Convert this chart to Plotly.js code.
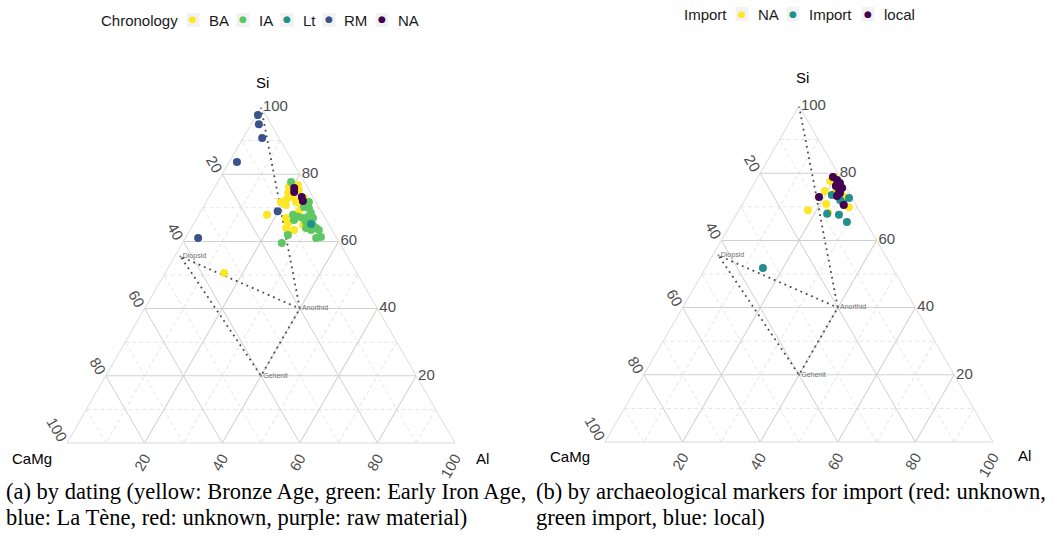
<!DOCTYPE html>
<html><head><meta charset="utf-8">
<script src="https://cdn.plot.ly/plotly-3.0.1.min.js"></script>
<style>html,body{margin:0;padding:0;background:#fff}#chart{width:1059px;height:536px}</style>
</head><body><div id="chart"></div>
<script>
// ---------- Panel (a): by chronology ----------
const chronTitle = "Chronology";
const chronCategories = ["BA", "IA", "Lt", "RM", "NA"];
const chronColors = ["#FDE725", "#5DC863", "#21908C", "#3B528B", "#440154"];

const BA_Si   = [50.6, 67.9, 76.2, 76.8, 75.3, 74.4, 73.2, 72.3, 71.7, 72.9, 70.8, 70.8, 71.7, 70.8, 67.0, 65.5, 64.0, 63.4, 68.8, 64.9];
const BA_CaMg = [34.2, 14.5, 4.7, 2.1, 2.6, 5.8, 5.2, 7.4, 5.1, 2.5, 4.3, 2.5, 9.0, 8.2, 10.1, 10.3, 11.5, 9.8, 5.8, 6.7];
const BA_Al   = [15.2, 17.6, 19.1, 21.1, 22.1, 19.8, 21.6, 20.3, 23.2, 24.6, 24.9, 26.7, 19.3, 21.0, 22.9, 24.2, 24.5, 26.8, 25.4, 28.4];

const IA_Si   = [77.7, 70.2, 69.9, 68.5, 67.3, 67.0, 67.9, 67.3, 67.0, 66.4, 65.8, 64.9, 64.0, 63.4, 64.0, 63.4, 61.3, 61.0, 59.5, 61.9, 71.7];
const IA_CaMg = [3.4, 3.8, 2.7, 2.9, 4.2, 3.1, 7.8, 6.8, 5.7, 8.3, 5.5, 4.2, 3.8, 3.4, 6.4, 5.4, 3.9, 5.3, 14.9, 12.1, 1.8];
const IA_Al   = [18.9, 26.0, 27.4, 28.6, 28.5, 29.9, 24.3, 25.9, 27.3, 25.3, 28.7, 30.9, 32.2, 33.2, 29.6, 31.2, 34.8, 33.7, 25.6, 26.0, 26.5];

const Lt_Si   = [65.2];
const Lt_CaMg = [4.5];
const Lt_Al   = [30.3];

const RM_Si   = [97.6, 94.9, 90.8, 83.6, 61.0, 69.0];
const RM_CaMg = [2.0, 3.1, 4.3, 14.4, 35.7, 11.2];
const RM_Al   = [0.4, 2.0, 4.9, 2.0, 3.3, 19.8];

const NAa_Si   = [75.9, 74.7, 73.2, 72.0];
const NAa_CaMg = [3.5, 4.1, 2.9, 3.2];
const NAa_Al   = [20.6, 21.2, 23.9, 24.8];

// ---------- Panel (b): by import markers ----------
const importTitle = "Import";
const importCategories = ["NA", "Import", "local"];
const importColors = ["#FDE725", "#21908C", "#440154"];

const NAb_Si   = [69.0, 70.8, 68.2, 77.7, 74.7, 74.1, 73.2, 69.9, 78.9, 72.6];
const NAb_CaMg = [13.2, 7.6, 8.4, 3.1, 6.0, 3.7, 2.1, 2.2, 1.5, 1.6];
const NAb_Al   = [17.8, 21.6, 23.4, 19.2, 19.3, 22.2, 24.7, 27.9, 19.6, 25.8];

const Imp_Si   = [51.8, 67.9, 67.6, 65.5, 73.5, 71.1, 72.6, 72.0];
const Imp_CaMg = [33.4, 8.8, 5.9, 4.9, 4.8, 3.1, 0.8, 3.4];
const Imp_Al   = [14.8, 23.3, 26.5, 29.6, 21.7, 25.8, 26.6, 24.6];

const Loc_Si   = [72.9, 78.9, 78.0, 77.1, 76.2, 74.7, 75.6, 73.2, 74.1, 70.5];
const Loc_CaMg = [8.4, 1.8, 1.2, 0.9, 2.4, 2.3, 1.1, 3.6, 2.4, 3.2];
const Loc_Al   = [18.7, 19.3, 20.8, 22.0, 21.4, 23.0, 23.3, 23.2, 23.5, 26.3];

// ---------- reference minerals (dotted path) ----------
const refPathSi   = [100, 40, 20, 55.5, 40];
const refPathCaMg = [0, 20, 40, 43, 20];
const refPathAl   = [0, 40, 40, 1.5, 40];
const mineralNames = ["Diopsid", "Anorthid", "Gehenit"];
const mineralSi    = [55.5, 40, 20];
const mineralCaMg  = [43, 20, 40];
const mineralAl    = [1.5, 40, 40];

// axis tick labels
const majorTickVals = [80, 60, 40, 20, 0];
const majorTickText = ["20", "40", "60", "80", "100"];
const minorTickVals = [10, 30, 50, 70, 90];

// captions
const captionA = ["(a) by dating (yellow: Bronze Age, green: Early Iron Age,", "blue: La Tène, red: unknown, purple: raw material)"];
const captionB = ["(b) by archaeological markers for import (red: unknown,", "green import, blue: local)"];

// ---------- layout helpers ----------
const W = 1059, H = 536;
const px = x => x / W;
const py = y => 1 - y / H;
const FONT = "Liberation Sans, Arial, sans-serif";
const SERIF = "Liberation Serif, Times New Roman, serif";

function ternDomain(cx, cy, side) {
  const h = side * Math.sqrt(3) / 2;
  return { x: [px(cx - side / 2 - 12), px(cx + side / 2 + 12)], y: [py(cy + h / 2), py(cy - h / 2)] };
}
function minorTernary(dom) {
  const ax = { tickmode: "array", tickvals: minorTickVals, showticklabels: false, ticks: "",
    showgrid: true, gridcolor: "#e6e6e6", griddash: "4px,3px", gridwidth: 1, showline: false, title: { text: "" } };
  return { domain: dom, sum: 100, bgcolor: "#ffffff", aaxis: ax, baxis: ax, caxis: ax };
}
function majorTernary(dom) {
  const base = { tickmode: "array", tickvals: majorTickVals, ticktext: majorTickText, ticks: "",
    showgrid: true, gridcolor: "#d0d0d0", gridwidth: 1, showline: true, linecolor: "#dadada", linewidth: 1,
    layer: "below traces", tickfont: { family: FONT, size: 15, color: "#4d4d4d" }, title: { text: "" } };
  return { domain: dom, sum: 100, bgcolor: "rgba(0,0,0,0)",
    aaxis: Object.assign({}, base, { tickangle: 60 }),
    baxis: Object.assign({}, base, { tickangle: -60 }),
    caxis: Object.assign({}, base, { tickangle: 0 }) };
}

const domL = ternDomain(261, 275, 388);
const domR = ternDomain(799, 274, 388);

function pts(name, si, camg, al, color, subplot) {
  return { type: "scatterternary", mode: "markers", name: name, a: si, b: camg, c: al,
    subplot: subplot, marker: { color: color, size: 8, line: { width: 0 } }, cliponaxis: false };
}
function refLine(subplot) {
  return { type: "scatterternary", mode: "lines", a: refPathSi, b: refPathCaMg, c: refPathAl,
    subplot: subplot, hoverinfo: "skip",
    line: { color: "#4a4a4a", width: 1.8, dash: "1.8px,4px" } };
}
function refLabels(subplot) {
  return { type: "scatterternary", mode: "markers+text", a: mineralSi, b: mineralCaMg, c: mineralAl,
    text: mineralNames, textposition: "middle right", subplot: subplot, hoverinfo: "skip",
    marker: { size: 2, color: "#777777" }, textfont: { family: FONT, size: 7, color: "#6e6e6e" }, cliponaxis: false };
}
function empty(subplot) {
  return { type: "scatterternary", mode: "markers", a: [], b: [], c: [], subplot: subplot, hoverinfo: "skip" };
}

const data = [
  empty("ternary"), empty("ternary3"),
  refLine("ternary2"), refLabels("ternary2"),
  pts(chronCategories[0], BA_Si, BA_CaMg, BA_Al, chronColors[0], "ternary2"),
  pts(chronCategories[1], IA_Si, IA_CaMg, IA_Al, chronColors[1], "ternary2"),
  pts(chronCategories[2], Lt_Si, Lt_CaMg, Lt_Al, chronColors[2], "ternary2"),
  pts(chronCategories[3], RM_Si, RM_CaMg, RM_Al, chronColors[3], "ternary2"),
  pts(chronCategories[4], NAa_Si, NAa_CaMg, NAa_Al, chronColors[4], "ternary2"),
  refLine("ternary4"), refLabels("ternary4"),
  pts(importCategories[0], NAb_Si, NAb_CaMg, NAb_Al, importColors[0], "ternary4"),
  pts(importCategories[1], Imp_Si, Imp_CaMg, Imp_Al, importColors[1], "ternary4"),
  pts(importCategories[2], Loc_Si, Loc_CaMg, Loc_Al, importColors[2], "ternary4")
];

function txt(text, x, y, anchor, size, color, family) {
  return { text: text, x: px(x), y: py(y), xref: "paper", yref: "paper", showarrow: false,
    xanchor: anchor, yanchor: "middle", align: "left",
    font: { family: family || FONT, size: size, color: color } };
}

// ggplot-style legend (title, grey key squares with dots, labels)
const annotations = [];
const shapes = [];
function buildLegend(title, titleX, y, cats, colors, keyXs, labelXs) {
  annotations.push(txt(title, titleX, y, "left", 15, "#1a1a1a"));
  cats.forEach((c, i) => {
    shapes.push({ type: "rect", xref: "paper", yref: "paper", layer: "below",
      x0: px(keyXs[i] - 6.5), x1: px(keyXs[i] + 6.5), y0: py(y + 7), y1: py(y - 7),
      fillcolor: "#f2f2f2", line: { width: 0 } });
    annotations.push(txt("●", keyXs[i], y - 0.5, "center", 9, colors[i], "DejaVu Sans, sans-serif"));
    annotations.push(txt(c, labelXs[i], y, "left", 15, "#1a1a1a"));
  });
}
buildLegend(chronTitle, 99, 20, chronCategories, chronColors,
  [193, 243, 287, 329, 382], [207, 257, 301, 342, 396]);
buildLegend(importTitle, 682, 14, importCategories, importColors,
  [742, 793, 868], [756, 807, 882]);

// axis titles
annotations.push(txt("Si", 262, 83, "center", 15, "#000000"));
annotations.push(txt("CaMg", 10, 458, "left", 15, "#000000"));
annotations.push(txt("Al", 474, 458, "left", 15, "#000000"));
annotations.push(txt("Si", 802, 77, "center", 15, "#000000"));
annotations.push(txt("CaMg", 548, 456, "left", 15, "#000000"));
annotations.push(txt("Al", 1016, 455, "left", 15, "#000000"));

// captions
annotations.push(txt(captionA[0], 4, 491, "left", 22.5, "#000000", SERIF));
annotations.push(txt(captionA[1], 4, 517, "left", 22.5, "#000000", SERIF));
annotations.push(txt(captionB[0], 534, 491, "left", 22.5, "#000000", SERIF));
annotations.push(txt(captionB[1], 534, 517, "left", 22.5, "#000000", SERIF));

const layout = {
  width: W, height: H, margin: { l: 0, r: 0, t: 0, b: 0 },
  paper_bgcolor: "#ffffff", font: { family: FONT }, showlegend: false,
  ternary: minorTernary(domL), ternary2: majorTernary(domL),
  ternary3: minorTernary(domR), ternary4: majorTernary(domR),
  annotations: annotations, shapes: shapes
};

Plotly.newPlot("chart", data, layout, { staticPlot: true, displayModeBar: false });
</script>
</body></html>
